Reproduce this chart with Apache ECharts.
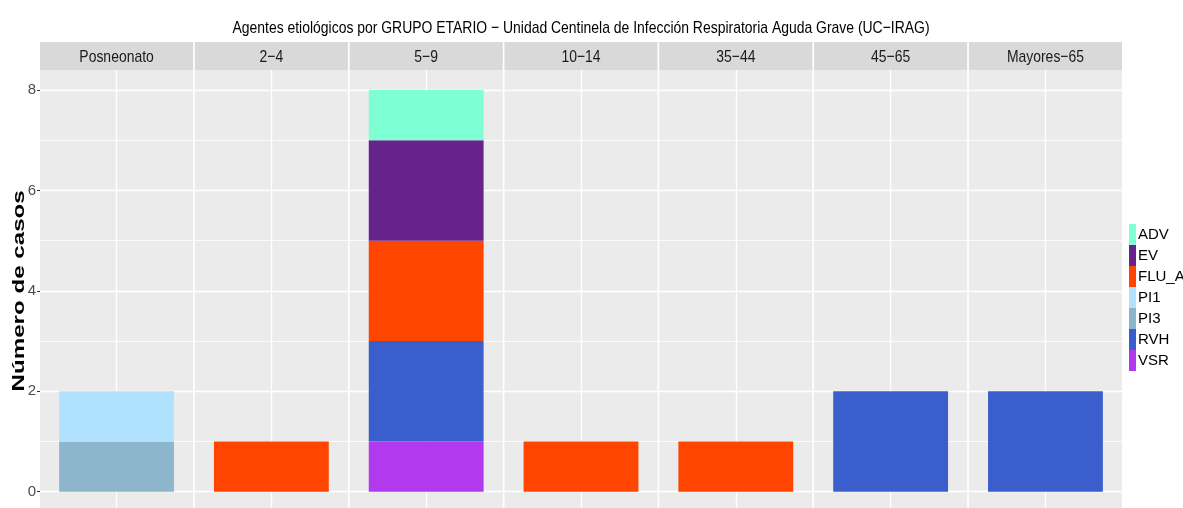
<!DOCTYPE html>
<html>
<head>
<meta charset="utf-8">
<script src="https://cdn.jsdelivr.net/npm/echarts@6/dist/echarts.min.js"></script>
<style>html,body{margin:0;padding:0;background:#fff}#c{width:1183px;height:508px}</style>
</head>
<body>
<div id="c"></div>
<script>
// ---- data ----
const groups = ['Posneonato', '2\u22124', '5\u22129', '10\u221214', '35\u221244', '45\u221265', 'Mayores\u221265'];
const agents = ['ADV', 'EV', 'FLU_A', 'PI1', 'PI3', 'RVH', 'VSR'];
const ADV   = [0, 0, 1, 0, 0, 0, 0];
const EV    = [0, 0, 2, 0, 0, 0, 0];
const FLU_A = [0, 1, 2, 1, 1, 0, 0];
const PI1   = [1, 0, 0, 0, 0, 0, 0];
const PI3   = [1, 0, 0, 0, 0, 0, 0];
const RVH   = [0, 0, 2, 0, 0, 2, 2];
const VSR   = [0, 0, 1, 0, 0, 0, 0];
const yTicks = [0, 2, 4, 6, 8];
const titleText = 'Agentes etiológicos por GRUPO ETARIO \u2212 Unidad Centinela de Infección Respiratoria Aguda Grave (UC\u2212IRAG)';
const yName = 'Número de casos';

const values = { ADV, EV, FLU_A, PI1, PI3, RVH, VSR };
const colors = { ADV: '#7FFFD4', EV: '#68228B', FLU_A: '#FF4500', PI1: '#B0E2FF', PI3: '#8DB6CD', RVH: '#3A5FCD', VSR: '#B23AEE' };
const stackOrder = agents.slice().reverse(); // ggplot puts first level on top

// ---- layout ----
const FONT = '"Liberation Sans", Arial, sans-serif';
const NARROW = 0.82; // horizontal condensing of the narrow-looking text
const L = 40, R = 1122, GAP = 1.7, N = groups.length;
const PW = (R - L - GAP * (N - 1)) / N;
const Y0 = 491.7, Y8 = 90;              // pixel rows of 0 and 8
const unit = (Y0 - Y8) / 8;
const PT = Y8 - 0.4 * unit, PB = Y0 + 0.4 * unit;
const yMax = yTicks[yTicks.length - 1];

const grids = [], xAxes = [], yAxes = [], series = [], graphics = [];

for (let i = 0; i < N; i++) {
  const left = L + i * (PW + GAP);
  // background panel
  grids.push({ left: left, top: PT, width: PW, height: PB - PT, show: true, backgroundColor: '#EBEBEB', borderWidth: 0 });
  xAxes.push({ gridIndex: i, type: 'value', min: 0, max: 2, interval: 1,
    axisLine: { show: false }, axisTick: { show: false }, axisLabel: { show: false },
    splitLine: { show: true, showMinLine: false, showMaxLine: false, lineStyle: { color: '#FFFFFF', width: 1.3 } } });
  yAxes.push({ gridIndex: i, type: 'value', min: 0, max: 1, show: false });
  // strip
  graphics.push({ type: 'rect', shape: { x: left, y: 42, width: PW, height: PT - 42 }, style: { fill: '#D9D9D9' }, silent: true });
  graphics.push({ type: 'text', x: left + PW / 2, y: 57, scaleX: NARROW, style: { text: groups[i], align: 'center', verticalAlign: 'middle', font: '17px ' + FONT, fill: '#1A1A1A' }, silent: true });
}
for (let i = 0; i < N; i++) {
  const left = L + i * (PW + GAP);
  const gi = N + i;
  grids.push({ left: left, top: Y8, width: PW, height: Y0 - Y8 });
  xAxes.push({ gridIndex: gi, type: 'category', data: [groups[i]], show: false });
  yAxes.push({ gridIndex: gi, type: 'value', min: 0, max: yMax, interval: 2,
    axisLine: { show: false },
    axisTick: { show: i === 0, length: 3, lineStyle: { color: '#333333', width: 1 } },
    axisLabel: { show: i === 0, margin: 4, color: '#4D4D4D', fontSize: 15, fontFamily: FONT },
    splitLine: { show: true, lineStyle: { color: '#FFFFFF', width: 1.3 } },
    minorTick: { show: false, splitNumber: 2 },
    minorSplitLine: { show: true, lineStyle: { color: '#FFFFFF', width: 0.8 } } });
  stackOrder.forEach(function (a) {
    const v = values[a][i];
    series.push({ name: a, type: 'bar', xAxisIndex: gi, yAxisIndex: gi, stack: 'p' + i,
      barWidth: '75%', data: [v ? v : null], itemStyle: { color: colors[a] }, silent: true });
  });
}

graphics.push({ type: 'text', x: (L + R) / 2, y: 28, scaleX: NARROW, style: { text: titleText, align: 'center', verticalAlign: 'middle', font: '17px ' + FONT, fill: '#000000' }, silent: true });
graphics.push({ type: 'text', x: 19, y: (Y0 + Y8) / 2, rotation: Math.PI / 2, scaleX: 1.42,
  style: { text: yName, align: 'center', verticalAlign: 'middle', font: 'bold 17px ' + FONT, fill: '#000000' }, silent: true });

const chart = echarts.init(document.getElementById('c'));
chart.setOption({
  animation: false,
  grid: grids, xAxis: xAxes, yAxis: yAxes, series: series,
  legend: { orient: 'vertical', left: 1129, top: 224, padding: 0, itemGap: 0, itemWidth: 7, itemHeight: 21,
    icon: 'rect', data: agents, selectedMode: false,
    textStyle: { fontSize: 15, fontFamily: FONT, color: '#000000', padding: [0, 0, 0, -3] } },
  graphic: graphics
});
</script>
</body>
</html>
